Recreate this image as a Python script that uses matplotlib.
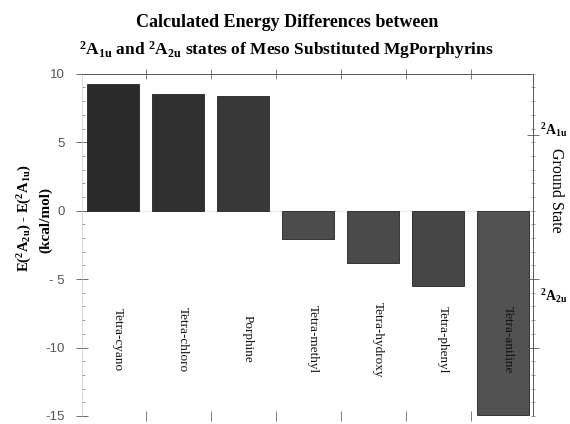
import matplotlib
matplotlib.use('Agg')
import matplotlib.pyplot as plt
import numpy as np
from matplotlib.ticker import MultipleLocator, FixedLocator

plt.rcParams['mathtext.fontset'] = 'custom'
plt.rcParams['mathtext.rm'] = 'Liberation Serif:bold'
plt.rcParams['mathtext.it'] = 'Liberation Serif:bold:italic'
plt.rcParams['mathtext.bf'] = 'Liberation Serif:bold'

# data
substituents = ['Tetra-cyano', 'Tetra-chloro', 'Porphine', 'Tetra-methyl',
                'Tetra-hydroxy', 'Tetra-phenyl', 'Tetra-aniline']
energy_diff = [9.25, 8.5, 8.35, -2.05, -3.85, -5.5, -14.9]
bar_colors = ['#2a2a2a', '#303030', '#383838', '#4c4c4c', '#4a4a4a', '#464646', '#525252']

serif = 'Liberation Serif'
A1u = r'$^2$A$_{\mathrm{1u}}$'
A2u = r'$^2$A$_{\mathrm{2u}}$'

fig = plt.figure(figsize=(5.7, 4.24), dpi=100)
ax = fig.add_axes([0.144, 0.019, 0.791, 0.807])

x = np.arange(len(substituents))
ax.bar(x, energy_diff, width=0.8, color=bar_colors, edgecolor='#222222', linewidth=0.6, zorder=2)
ax.axhline(0, color='#dddddd', lw=0.5, zorder=1)

# category names, written vertically below the zero line
for xi, name in zip(x, substituents):
    ax.text(xi + 0.07, -9.4, name, rotation=-90, ha='center', va='center',
            family=serif, fontsize=9.5, color='#111111', zorder=3)

ax.set_xlim(-0.48, 6.46)
ax.set_ylim(-15, 10)

ax.spines['bottom'].set_visible(False)
ax.spines['left'].set_color('#cccccc')
ax.spines['left'].set_linewidth(0.5)
ax.spines['top'].set_color('#555555')
ax.spines['top'].set_linewidth(0.7)
ax.spines['right'].set_color('#555555')
ax.spines['right'].set_linewidth(0.7)

# left axis
ax.yaxis.set_major_locator(FixedLocator([10, 5, 0, -5, -10, -15]))
ax.set_yticklabels(['10', '5', '0', '- 5', '-10', '-15'])
ax.yaxis.set_minor_locator(MultipleLocator(1))
ax.tick_params(axis='y', which='major', direction='inout', length=9, width=0.6,
               color='#555555', labelsize=9.5, labelcolor='#555555', pad=8)
ax.tick_params(axis='y', which='minor', direction='in', length=2.5, width=0.5, color='#777777')
for lbl in ax.get_yticklabels():
    lbl.set_family('Liberation Sans')

# top and bottom ticks between categories
ax.xaxis.set_major_locator(FixedLocator(x[:-1] + 0.5))
ax.tick_params(axis='x', which='major', top=True, bottom=True, direction='inout',
               length=7, width=0.6, color='#666666', labelbottom=False)

# right axis: ground state scale
ax2 = ax.twinx()
ax2.set_ylim(ax.get_ylim())
for s in ax2.spines.values():
    s.set_visible(False)
ax2.yaxis.set_major_locator(FixedLocator([5.5, -5, -10]))
ax2.yaxis.set_minor_locator(MultipleLocator(1))
ax2.tick_params(axis='y', which='major', direction='inout', length=9, width=0.6,
                color='#555555', labelright=False)
ax2.tick_params(axis='y', which='minor', direction='inout', length=3, width=0.5, color='#777777')

fig.text(0.948, 0.693, A1u, family=serif, fontweight='bold', fontsize=10,
         ha='left', va='center')
fig.text(0.948, 0.302, A2u, family=serif, fontweight='bold', fontsize=10,
         ha='left', va='center')
fig.text(0.976, 0.552, 'Ground State', family=serif, fontsize=11.5, rotation=-90,
         ha='center', va='center')

# y label
fig.text(0.044, 0.485, 'E(' + A2u + ') - E(' + A1u + ')', family=serif, fontweight='bold',
         fontsize=10.5, rotation=90, ha='center', va='center')
fig.text(0.080, 0.48, '(kcal/mol)', family=serif, fontweight='bold',
         fontsize=11, rotation=90, ha='center', va='center')

# title
fig.text(0.503, 0.948, 'Calculated Energy Differences between', family=serif,
         fontweight='bold', fontsize=13, ha='center', va='center')
fig.text(0.503, 0.882, A1u + ' and ' + A2u + ' states of Meso Substituted MgPorphyrins',
         family=serif, fontweight='bold', fontsize=12.5, ha='center', va='center')

fig.savefig('out.png', dpi=100)
